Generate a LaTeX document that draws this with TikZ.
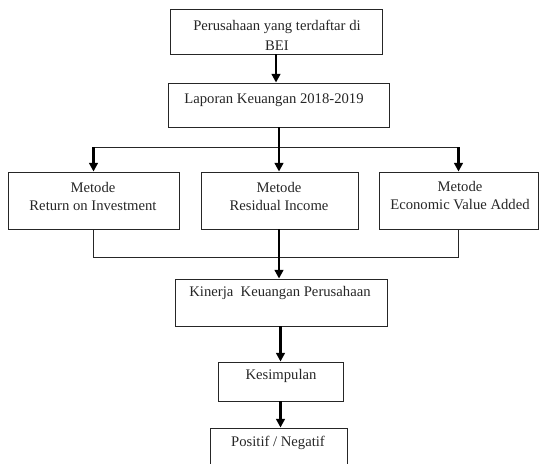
\documentclass[tikz,border=0pt]{standalone}
\usepackage{fontspec}
\setmainfont{Liberation Serif}
\usetikzlibrary{arrows.meta}
\tikzset{
  box/.style={draw=black!85, line width=0.7pt, inner sep=0pt, fill=none},
  txt/.style={inner sep=0pt, align=center, text=black!85, font=\fontsize{11}{14}\selectfont},
  arr/.style={line width=1.6pt, -{Triangle[length=6.5pt,width=6.5pt]}},
  thk/.style={line width=1.6pt},
  thin/.style={line width=0.7pt, draw=black!85}
}
\newcommand\mybox[5]{\node[box, minimum width={(#3-#2)*0.75pt}, minimum height={(#5-#4)*0.75pt}] (#1) at ({(#2+#3)/2},{(#4+#5)/2}) {};}
\begin{document}
\begin{tikzpicture}[x=0.75pt, y=-0.75pt]
\useasboundingbox (0,0) rectangle (539,464);
\clip (0,0) rectangle (539,464);
% boxes
\mybox{b1}{170}{382}{9}{54}
\mybox{b2}{168}{389}{83}{127}
\mybox{roi}{8}{179}{172}{229}
\mybox{ri}{201}{358}{172}{229}
\mybox{eva}{379}{538}{172}{229}
\mybox{kin}{175}{387}{279}{326}
\mybox{kes}{218}{343}{362}{401}
\mybox{pos}{210}{347}{428}{478}
% texts
\node[txt, font=\fontsize{11}{15}\selectfont] (t1) at (277,35) {Perusahaan yang terdaftar di\\BEI};
\node[txt] (t2) at (274,100) {Laporan Keuangan 2018-2019};
\node[txt, font=\fontsize{11}{13.5}\selectfont] (t3) at (93,196) {Metode\\Return on Investment};
\node[txt, font=\fontsize{11}{13.5}\selectfont] (t4) at (279,196) {Metode\\Residual Income};
\node[txt, font=\fontsize{11}{13.5}\selectfont] (t5) at (460,196) {Metode\\Economic Value Added};
\node[txt] (t6) at (280,293) {Kinerja\ \ Keuangan Perusahaan};
\node[txt] (t7) at (281,376) {Kesimpulan};
\node[txt] (t8) at (278,443) {Positif / Negatif};
% junctions
\coordinate (jt) at (279,147);
\coordinate (jb) at (279,257);
% connectors
\draw[arr] (b1.south) -- (b1.south |- b2.north);
\draw[thk] (b2.south -| jt) -- (jt);
\draw[thin] (roi.north |- jt) -- (eva.north |- jt);
\draw[arr] (roi.north |- jt) -- (roi.north);
\draw[arr] (jt) -- (ri.north -| jt);
\draw[arr] (eva.north |- jt) -- (eva.north);
\draw[thin] (roi.south) -- (roi.south |- jb) -- (eva.south |- jb) -- (eva.south);
\draw[arr] (ri.south -| jb) -- (kin.north -| jb);
\draw[arr] (kin.south -| kes.north) -- (kes.north);
\draw[arr] (kes.south) -- (kes.south |- pos.north);
\end{tikzpicture}
\end{document}
